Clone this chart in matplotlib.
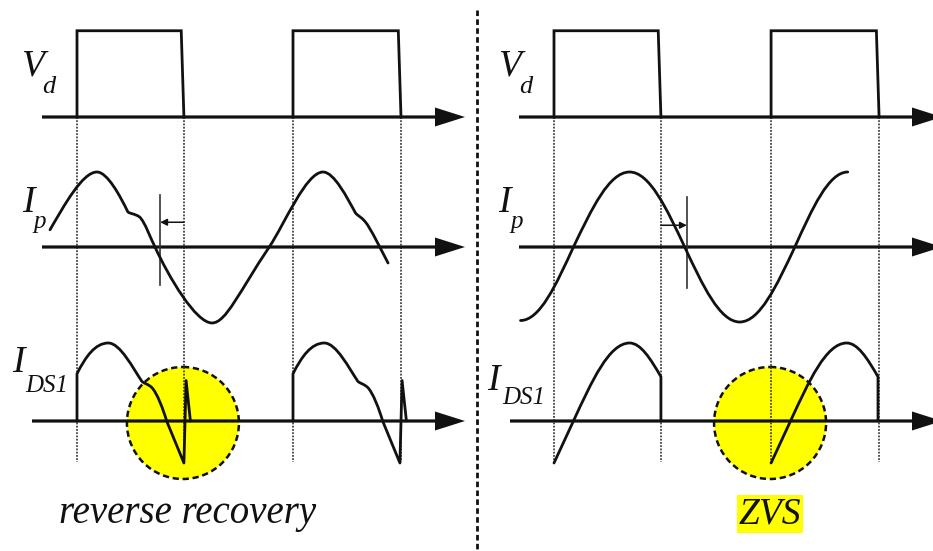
import matplotlib.pyplot as plt
from matplotlib.path import Path
from matplotlib.patches import PathPatch, Circle

# Time is counted in half switching periods from the first rising edge of Vd,
# amplitudes are normalised to the peak of Ip.

# switching instants of Vd: rise, fall, rise, fall
edges_rr = [0.0, 0.99, 2.0, 3.0]
edges_zvs = [0.0, 0.99, 2.01, 3.01]
vd_high = 1.15
vd_fall = 0.025

# primary current, reverse-recovery case (start point, then cubic segments)
ip_rr = [
    [(-0.25, 0.23)],
    [(-0.12, 0.55), (0.05, 1.0), (0.185, 1.0)],
    [(0.28, 1.0), (0.40, 0.68), (0.47, 0.47)],
    [(0.49, 0.44), (0.53, 0.45), (0.58, 0.40)],
    [(0.63, 0.33), (0.68, 0.12), (0.722, 0.0)],
    [(0.85, -0.40), (1.10, -1.013), (1.25, -1.013)],
    [(1.38, -1.013), (1.50, -0.60), (1.78, 0.0)],
    [(1.92, 0.30), (2.12, 1.0), (2.278, 1.0)],
    [(2.38, 1.0), (2.50, 0.66), (2.58, 0.45)],
    [(2.60, 0.42), (2.63, 0.40), (2.667, 0.34)],
    [(2.72, 0.25), (2.82, -0.05), (2.88, -0.213)],
]

# primary current, ZVS case
ip_zvs = [
    [(-0.31, -0.98)],
    [(-0.13, -0.98), (0.02, -0.50), (0.18, 0.0)],
    [(0.35, 0.51), (0.51, 1.0), (0.70, 1.0)],
    [(0.885, 1.0), (1.044, 0.51), (1.21, 0.0)],
    [(1.376, -0.51), (1.535, -1.0), (1.72, -1.0)],
    [(1.905, -1.0), (2.064, -0.51), (2.23, 0.0)],
    [(2.39, 0.51), (2.543, 1.0), (2.72, 1.0)],
]

# switch current over one conduction interval, measured from its rising edge
ids_rr = [
    [(0.0, 0.0)],
    [(0.0, 0.63)],
    [(0.08, 0.86), (0.17, 1.04), (0.29, 1.04)],
    [(0.40, 1.04), (0.52, 0.70), (0.60, 0.53)],
    [(0.62, 0.50), (0.65, 0.50), (0.69, 0.45)],
    [(0.74, 0.38), (0.80, 0.15), (0.83, 0.0)],
    [(0.99, -0.56)],
    [(1.01, 0.54)],
    [(1.05, 0.0)],
]
ids_zvs = [
    [(0.0, -0.56)],
    [(0.18, 0.0)],
    [(0.35, 0.53), (0.51, 1.04), (0.70, 1.04)],
    [(0.80, 1.04), (0.89, 0.84), (0.99, 0.59)],
    [(0.99, 0.0)],
]

# dead-time markers on Ip: position, top, bottom, arrow start, arrow level
delay_rr = [0.77, 0.69, -0.51, 0.99, 0.33]
delay_zvs = [1.23, 0.67, -0.55, 0.99, 0.29]

# ---- drawing geometry (pixels) ----
W, H = 933, 551
T_UNIT = 108
A_UNIT = 75
X0 = {'rr': 77, 'zvs': 554}
BASE = {'vd': 117, 'ip': 247, 'ids': 421}
INK = '#111111'
LW = 2.0

fig = plt.figure(figsize=(W / 100, H / 100), dpi=100)
ax = fig.add_axes([0, 0, 1, 1])
ax.set_xlim(0, W)
ax.set_ylim(H, 0)
ax.axis('off')


def X(panel, t):
    return X0[panel] + t * T_UNIT


def Y(row, a):
    return BASE[row] - a * A_UNIT


def draw_trace(panel, row, segs, shift=0.0):
    verts, codes = [], []
    for i, seg in enumerate(segs):
        if i == 0:
            codes.append(Path.MOVETO)
        elif len(seg) == 1:
            codes.append(Path.LINETO)
        else:
            codes += [Path.CURVE4] * 3
        verts += [(X(panel, t + shift), Y(row, a)) for t, a in seg]
    ax.add_patch(PathPatch(Path(verts, codes), fill=False, ec=INK, lw=LW,
                           joinstyle='round', capstyle='round', zorder=4))


def draw_axis(y, x_start, x_tip):
    ax.arrow(x_start, y, x_tip - x_start, 0, width=3.2, head_width=19,
             head_length=30, length_includes_head=True, fc=INK, ec='none',
             zorder=3)


def serif(x, y, s, size):
    ax.text(x, y, s, fontsize=size, family='Liberation Serif', style='italic',
            color=INK, ha='left', va='baseline', zorder=5)


def draw_panel(panel, edges, ip, ids, delay, axis_start, ids_start, tip):
    # highlight around the critical turn-on instant
    ci = 1 if panel == 'rr' else 2
    ax.add_patch(Circle((X(panel, edges[ci]) - 1, BASE['ids'] + 2), 56,
                        fc='#ffff00', ec=INK, lw=1.8, ls=(0, (2.5, 1.5)),
                        zorder=1))

    # guides at the switching instants
    for e in edges:
        ax.plot([X(panel, e)] * 2, [BASE['vd'], 462], color='#444444',
                lw=1.3, ls=(0, (1, 0.8)), zorder=2)

    for row in ('vd', 'ip'):
        draw_axis(BASE[row], axis_start, tip)
    draw_axis(BASE['ids'], ids_start, tip)

    # drive voltage pulses
    for rise, fall in zip(edges[0::2], edges[1::2]):
        xs = [X(panel, rise), X(panel, rise), X(panel, fall - vd_fall), X(panel, fall)]
        ys = [Y('vd', 0), Y('vd', vd_high), Y('vd', vd_high), Y('vd', 0)]
        ax.plot(xs, ys, color=INK, lw=LW, solid_joinstyle='miter', zorder=4)

    draw_trace(panel, 'ip', ip)
    for rise in edges[0::2]:
        draw_trace(panel, 'ids', ids, shift=rise)

    # dead-time marker
    tm, top, bot, t_from, a_arr = delay
    ax.plot([X(panel, tm)] * 2, [Y('ip', top), Y('ip', bot)], color='#333333',
            lw=1.2, zorder=3)
    ax.annotate('', xy=(X(panel, tm), Y('ip', a_arr)),
                xytext=(X(panel, t_from), Y('ip', a_arr)),
                arrowprops=dict(arrowstyle='-|>', color=INK, lw=1.1,
                                mutation_scale=10, shrinkA=0, shrinkB=0),
                zorder=4)


draw_panel('rr', edges_rr, ip_rr, ids_rr, delay_rr, 42, 32, 465)
draw_panel('zvs', edges_zvs, ip_zvs, ids_zvs, delay_zvs, 519, 510, 942)

# signal names
serif(21, 76, 'V', 27)
serif(42, 93, 'd', 19)
serif(22, 212, 'I', 27)
serif(33, 228, 'p', 18)
serif(12, 372, 'I', 27)
serif(25, 392, 'DS1', 18)

serif(498, 76, 'V', 27)
serif(519, 93, 'd', 19)
serif(498, 212, 'I', 27)
serif(510, 228, 'p', 18)
serif(487, 390, 'I', 27)
serif(502, 404, 'DS1', 18)

ax.text(188, 523, 'reverse recovery', fontsize=28, family='Liberation Serif',
        style='italic', color=INK, ha='center', va='baseline')
ax.text(770, 523, 'ZVS', fontsize=27, family='Liberation Serif',
        style='italic', color=INK, ha='center', va='baseline',
        bbox=dict(boxstyle='square,pad=0.05', fc='#ffff00', ec='none'))

# divider between the two cases
ax.plot([477, 477], [10, H], color=INK, lw=2.0, ls=(0, (2, 1.2)), zorder=2)

fig.savefig('out.png', dpi=100)
